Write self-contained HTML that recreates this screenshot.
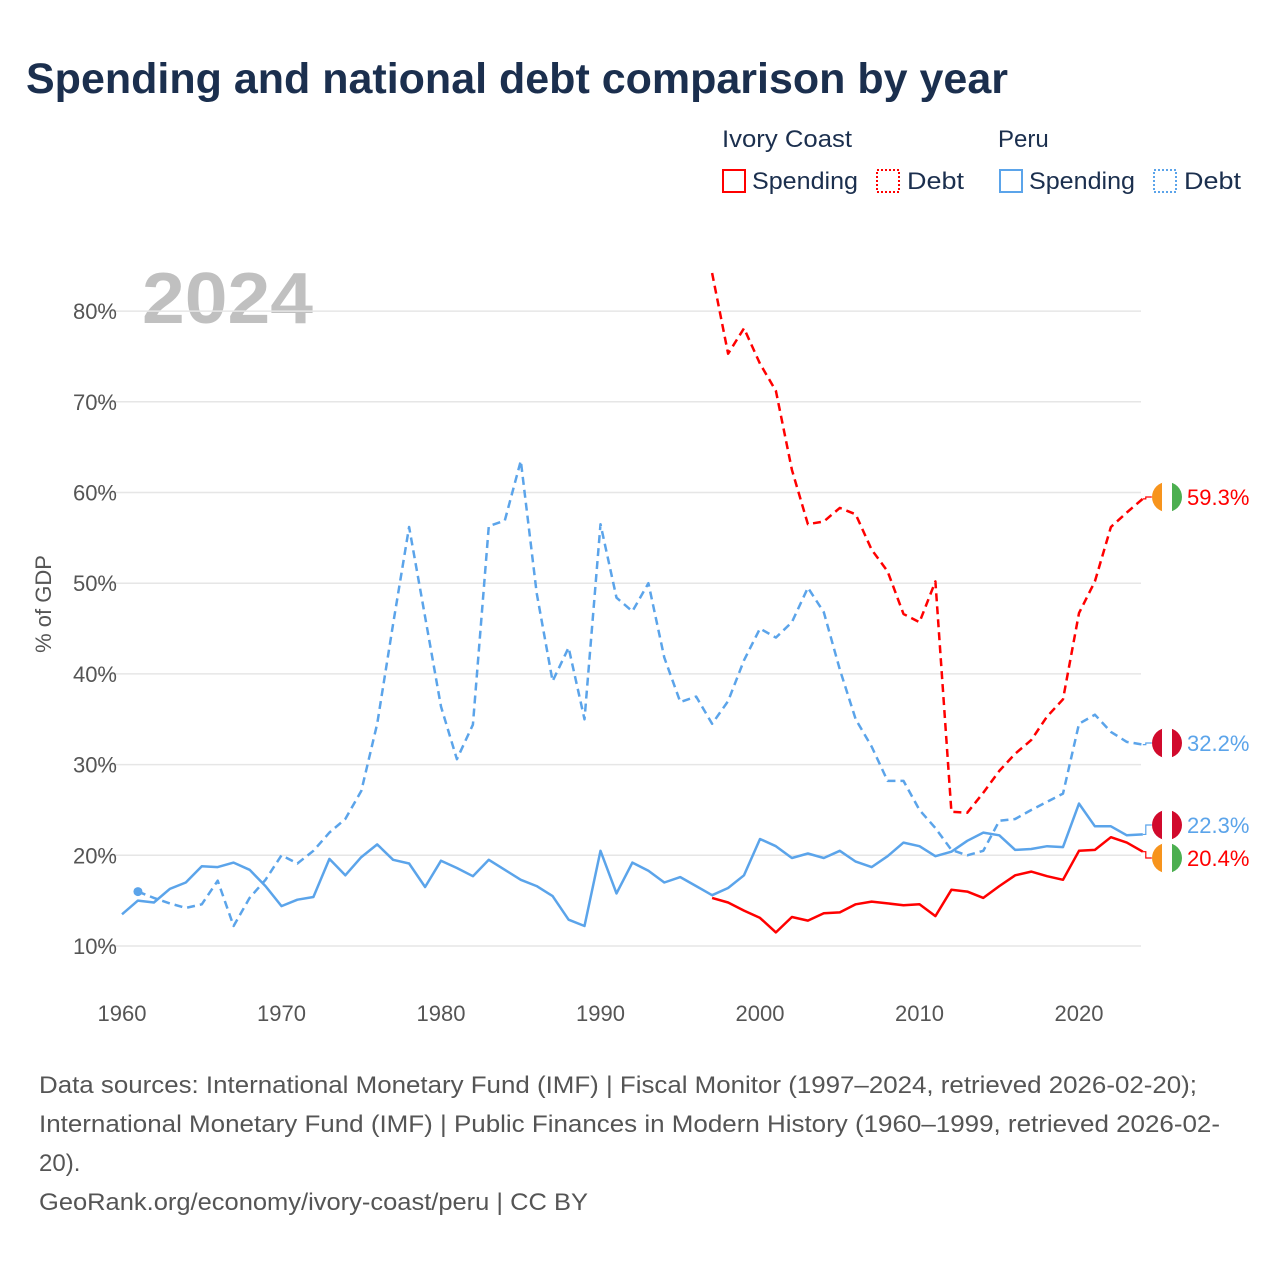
<!DOCTYPE html>
<html><head><meta charset="utf-8">
<style>
body{margin:0;background:#fff;font-family:"Liberation Sans",sans-serif;}
#wrap{position:relative;width:1280px;height:1280px;overflow:hidden;}
</style></head>
<body>
<div id="wrap">
<svg id="chart" width="1280" height="1280" style="position:absolute;left:0;top:0;font-family:'Liberation Sans',sans-serif">
<text x="26" y="93" font-size="43" font-weight="bold" fill="#1b2f4e" textLength="982" lengthAdjust="spacingAndGlyphs">Spending and national debt comparison by year</text>
<g>
<text x="722" y="147" font-size="24" fill="#1b2f4e" textLength="130" lengthAdjust="spacingAndGlyphs">Ivory Coast</text>
<text x="998" y="147" font-size="24" fill="#1b2f4e">Peru</text>
<rect x="723" y="170" width="22" height="22" fill="none" stroke="#ff0000" stroke-width="2"/>
<text x="752" y="189" font-size="24" fill="#1b2f4e" textLength="106" lengthAdjust="spacingAndGlyphs">Spending</text>
<rect x="877" y="170" width="22" height="22" fill="none" stroke="#ff0000" stroke-width="2" stroke-dasharray="2,2"/>
<text x="907" y="189" font-size="24" fill="#1b2f4e" textLength="57" lengthAdjust="spacingAndGlyphs">Debt</text>
<rect x="1000" y="170" width="22" height="22" fill="none" stroke="#5ba4ea" stroke-width="2"/>
<text x="1029" y="189" font-size="24" fill="#1b2f4e" textLength="106" lengthAdjust="spacingAndGlyphs">Spending</text>
<rect x="1154" y="170" width="22" height="22" fill="none" stroke="#5ba4ea" stroke-width="2" stroke-dasharray="2,2"/>
<text x="1184" y="189" font-size="24" fill="#1b2f4e" textLength="57" lengthAdjust="spacingAndGlyphs">Debt</text>
</g>
<text x="142" y="323" font-size="72" font-weight="bold" fill="#c0c0c0" textLength="171" lengthAdjust="spacingAndGlyphs">2024</text>
<text transform="translate(51,604) rotate(-90)" text-anchor="middle" font-size="22" fill="#555">% of GDP</text>
<g id="grid"></g><g id="series"></g><g id="ends"></g>
<g font-size="24" fill="#555">
<text x="39" y="1093" textLength="1158" lengthAdjust="spacingAndGlyphs">Data sources: International Monetary Fund (IMF) | Fiscal Monitor (1997–2024, retrieved 2026-02-20);</text>
<text x="39" y="1132" textLength="1181" lengthAdjust="spacingAndGlyphs">International Monetary Fund (IMF) | Public Finances in Modern History (1960–1999, retrieved 2026-02-</text>
<text x="39" y="1171">20).</text>
<text x="39" y="1210" textLength="549" lengthAdjust="spacingAndGlyphs">GeoRank.org/economy/ivory-coast/peru | CC BY</text>
</g>
</svg>
</div>
<script>
const yTicks=[10,20,30,40,50,60,70,80];
const xTicks=[1960,1970,1980,1990,2000,2010,2020];
const peruSpendStart=1960;
const peruSpending=[13.5,15.0,14.8,16.3,17.0,18.8,18.7,19.2,18.4,16.6,14.4,15.1,15.4,19.6,17.8,19.8,21.2,19.5,19.1,16.5,19.4,18.6,17.7,19.5,18.4,17.3,16.6,15.5,12.9,12.2,20.5,15.8,19.2,18.3,17.0,17.6,16.6,15.6,16.4,17.8,21.8,21.0,19.7,20.2,19.7,20.5,19.3,18.7,19.9,21.4,21.0,19.9,20.4,21.6,22.5,22.2,20.6,20.7,21.0,20.9,25.7,23.2,23.2,22.2,22.3];
const peruDebtStart=1961;
const peruDebt=[16.0,15.3,14.7,14.2,14.6,17.2,12.2,15.3,17.3,20.0,19.1,20.5,22.5,24.0,27.1,34.5,45.5,56.2,46.3,36.4,30.6,34.4,56.3,56.9,63.5,48.9,39.2,42.9,35.0,56.5,48.4,46.9,50.0,41.8,36.9,37.5,34.5,37.0,41.5,45.0,44.0,45.7,49.5,46.8,40.5,35.0,32.0,28.2,28.2,25.0,23.0,20.6,20.0,20.5,23.8,24.0,25.0,25.9,26.8,34.5,35.5,33.6,32.5,32.2];
const icStart=1997;
const icSpending=[15.3,14.8,13.9,13.1,11.5,13.2,12.8,13.6,13.7,14.6,14.9,14.7,14.5,14.6,13.3,16.2,16.0,15.3,16.6,17.8,18.2,17.7,17.3,20.5,20.6,22.0,21.4,20.4];
const icDebt=[84.2,75.3,78.1,74.2,71.2,62.5,56.5,56.8,58.3,57.6,53.7,51.3,46.6,45.7,50.2,24.8,24.7,26.9,29.3,31.2,32.7,35.3,37.2,46.7,50.2,56.2,57.8,59.3];

const NS="http://www.w3.org/2000/svg";
const X=y=>122+(y-1960)*15.95;
const Y=v=>946-(v-10)*9.07;
function mk(tag,attrs,parent){const e=document.createElementNS(NS,tag);for(const k in attrs)e.setAttribute(k,attrs[k]);parent.appendChild(e);return e;}
const grid=document.getElementById('grid'),ser=document.getElementById('series'),ends=document.getElementById('ends');
yTicks.forEach(t=>{
  const l=mk('line',{x1:95,x2:1141,y1:Y(t),y2:Y(t),stroke:'#e6e6e6','stroke-width':1.5},grid);
  
  
  const tx=mk('text',{x:117,y:Y(t)+8,'text-anchor':'end','font-size':22,fill:'#555'},grid);
  tx.textContent=t+'%';
  
  
});
xTicks.forEach(t=>{
  const tx=mk('text',{x:X(t),y:1021,'text-anchor':'middle','font-size':22,fill:'#555'},grid);
  tx.textContent=t;
  
  
});
function line(vals,start,color,dash,name){
  const pts=vals.map((v,i)=>X(start+i).toFixed(1)+','+Y(v).toFixed(1)).join(' ');
  const p=mk('polyline',{points:pts,fill:'none',stroke:color,'stroke-width':2.5,'stroke-linejoin':'round'},ser);
  if(dash)p.setAttribute('stroke-dasharray','8,5');
  
  
}
line(peruDebt,peruDebtStart,'#5ba4ea',true,'peru-debt-line');
line(peruSpending,peruSpendStart,'#5ba4ea',false,'peru-spending-line');
line(icDebt,icStart,'#ff0000',true,'ivory-coast-debt-line');
line(icSpending,icStart,'#ff0000',false,'ivory-coast-spending-line');
const dot=mk('circle',{cx:X(peruDebtStart),cy:Y(peruDebt[0]),r:4.5,fill:'#5ba4ea'},ser);



function flag(cx,cy,cols,name){
  const g=mk('g',{},ends);
  
  
  const id='c'+Math.round(cy);
  const cp=mk('clipPath',{id:id},g);mk('circle',{cx:cx,cy:cy,r:15},cp);
  cols.forEach((c,i)=>mk('rect',{x:cx-15+i*10,y:cy-15,width:10.5,height:30,fill:c,'clip-path':'url(#'+id+')'},g));
}
const ends_=[
 {v:icDebt[icDebt.length-1],cy:497,col:'#ff0000',flag:['#f7941d','#ffffff','#4caf50'],name:'ivory-coast-debt'},
 {v:peruDebt[peruDebt.length-1],cy:743,col:'#5ba4ea',flag:['#d10a2c','#ffffff','#d10a2c'],name:'peru-debt'},
 {v:peruSpending[peruSpending.length-1],cy:825,col:'#5ba4ea',flag:['#d10a2c','#ffffff','#d10a2c'],name:'peru-spending'},
 {v:icSpending[icSpending.length-1],cy:858,col:'#ff0000',flag:['#f7941d','#ffffff','#4caf50'],name:'ivory-coast-spending'}
];
ends_.forEach(e=>{
  const x0=X(2024),y0=Y(e.v);
  const c=mk('polyline',{points:`${x0},${y0} ${x0+3},${y0} ${x0+3},${e.cy} ${x0+9},${e.cy}`,fill:'none',stroke:e.col,'stroke-width':1.2},ends);
  
  
  flag(1167,e.cy,e.flag,e.name+'-flag');
  const t=mk('text',{x:1187,y:e.cy+8,'font-size':22,fill:e.col},ends);
  t.textContent=e.v.toFixed(1)+'%';
  
  
});
</script>
</body></html>
